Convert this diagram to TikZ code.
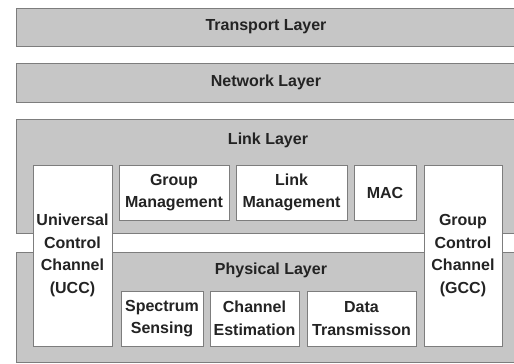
\documentclass[tikz,border=0pt]{standalone}
\usepackage{fontspec}
\setmainfont{Liberation Sans}
\usetikzlibrary{positioning}
\definecolor{colLayer}{RGB}{198,198,198}
\definecolor{colEdge}{RGB}{125,125,125}
\definecolor{colText}{RGB}{35,35,35}

\begin{document}
\begin{tikzpicture}[x=1pt, y=-1pt,
    every node/.style={font=\bfseries\fontsize{16}{22.5}\selectfont, text=colText},
    layer/.style={draw=colEdge, fill=colLayer, line width=1pt, minimum width=500pt, inner sep=0pt},
    unit/.style={draw=colEdge, fill=white, line width=0.8pt, inner sep=0pt, align=center}]
    \useasboundingbox (0,0) rectangle (514,364);

    % --- Upper layers ---
    \node[layer, minimum height=38pt] (transport) at (266, 27) {Transport Layer};
    \node[layer, minimum height=39pt] (network) at (266, 82.5) {Network Layer};

    % --- Link + Physical bars ---
    \node[layer, minimum height=114pt] (link) at (266, 176) {};
    \node[layer, minimum height=110pt] (phy) at (266, 307) {};
    \node (linkname) at (268, 140) {Link Layer};
    \node (phyname) at (271, 270) {Physical Layer};

    % Control channels (span both layers)
    \node[unit, minimum width=79pt, minimum height=181pt] (ucc) at (72.5, 255.5) {Universal\\Control\\Channel\\(UCC)};
    \node[unit, minimum width=78pt, minimum height=181pt] (gcc) at (463, 255.5) {Group\\Control\\Channel\\(GCC)};

    % Link layer units
    \node[unit, minimum width=110pt, minimum height=55pt] (groupmgmt) at (174, 192.5) {Group\\Management};
    \node[unit, minimum width=111pt, minimum height=55pt] (linkmgmt) at (291.5, 192.5) {Link\\Management};
    \node[unit, minimum width=62pt, minimum height=55pt] (mac) at (385, 192.5) {MAC};

    % Physical layer units
    \node[unit, minimum width=82pt, minimum height=55pt] (sensing) at (162, 318.5) {Spectrum\\Sensing};
    \node[unit, minimum width=89pt, minimum height=55pt] (estimation) at (254.5, 318.5) {Channel\\Estimation};
    \node[unit, minimum width=109pt, minimum height=55pt] (transmission) at (361.5, 318.5) {Data\\Transmisson};

\end{tikzpicture}
\end{document}
